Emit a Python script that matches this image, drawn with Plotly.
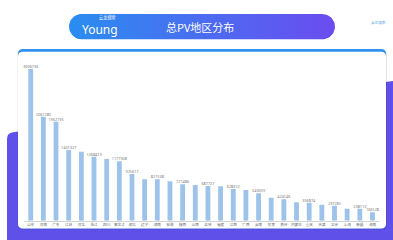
import numpy as np
import plotly.graph_objects as go

# ---- data ----
regions = ["山东", "河南", "广东", "江苏", "河北", "浙江", "四川", "黑龙江", "湖北", "辽宁",
           "湖南", "安徽", "陕西", "山西", "吉林", "福建", "江西", "广西", "云南", "甘肃",
           "贵州", "内蒙古", "重庆", "天津", "北京", "上海", "新疆", "海南"]
pv_values = [3006736, 2061280, 1962195, 1401327, 1367604, 1268413, 1222915, 1177308, 925617, 820546,
             821538, 780925, 721486, 707614, 687727, 681810, 628312, 608503, 543059, 455912,
             424146, 364718, 356874, 317105, 297265, 237840, 238113, 166528]
label_shown = [1, 1, 1, 1, 0, 1, 0, 1, 1, 0, 1, 0, 1, 0, 1, 0, 1, 0, 1, 0, 1, 0, 1, 0, 1, 0, 1, 1]
title_text = "总PV地区分布"
logo_text = "Young"
logo_sub = "云龙搜索"
corner_text = "云龙搜索"

W, H = 393, 240


def px(x):
    return x / W


def py(y):
    return 1 - y / H


def rrect(x0, y0, x1, y1, r):
    return (f"M {px(x0 + r)},{py(y0)} L {px(x1 - r)},{py(y0)} "
            f"Q {px(x1)},{py(y0)} {px(x1)},{py(y0 + r)} L {px(x1)},{py(y1 - r)} "
            f"Q {px(x1)},{py(y1)} {px(x1 - r)},{py(y1)} L {px(x0 + r)},{py(y1)} "
            f"Q {px(x0)},{py(y1)} {px(x0)},{py(y1 - r)} L {px(x0)},{py(y0 + r)} "
            f"Q {px(x0)},{py(y0)} {px(x0 + r)},{py(y0)} Z")


shapes = []
# purple slanted background
shapes.append(dict(type="path", xref="paper", yref="paper", layer="below",
                   path=(f"M {px(7)},{py(139)} Q {px(7)},{py(133)} {px(13)},{py(132.2)} "
                         f"L {px(393)},{py(81)} L {px(393)},{py(240)} L {px(7)},{py(240)} Z"),
                   fillcolor="#5e50e8", line=dict(width=0)))
# card shadow
shapes.append(dict(type="path", xref="paper", yref="paper", layer="below",
                   path=rrect(17.5, 49.5, 387, 229.5, 5), fillcolor="rgba(0,0,0,0.10)",
                   line=dict(width=0)))
# card blue top border
shapes.append(dict(type="path", xref="paper", yref="paper", layer="below",
                   path=rrect(18, 49, 386, 228.5, 5), fillcolor="#2f92ee", line=dict(width=0)))
# card white body
shapes.append(dict(type="path", xref="paper", yref="paper", layer="below",
                   path=rrect(18, 51.8, 386, 228.5, 5), fillcolor="#ffffff", line=dict(width=0)))

texts = [str(v) if s else "" for v, s in zip(pv_values, label_shown)]

fig = go.Figure()
fig.add_trace(go.Bar(
    x=regions, y=pv_values, width=0.38,
    marker=dict(color="#9dc3ea", line=dict(width=0)),
    text=texts, textposition="outside", constraintext="none", cliponaxis=False,
    textfont=dict(size=3.8, color="#777777", family="Noto Sans"),
    hoverinfo="x+y", xaxis="x", yaxis="y",
))

# header pill with gradient (decoration)
x0, x1, y0, y1 = 69, 335, 14, 39.3
r = (y1 - y0) / 2
cy = (y0 + y1) / 2
t1 = np.linspace(-np.pi / 2, np.pi / 2, 30)
t2 = np.linspace(np.pi / 2, 3 * np.pi / 2, 30)
pill_x = list(x1 - r + r * np.cos(t1)) + list(x0 + r + r * np.cos(t2))
pill_y = list(cy + r * np.sin(t1)) + list(cy + r * np.sin(t2))
fig.add_trace(go.Scatter(
    x=pill_x + [pill_x[0]], y=pill_y + [pill_y[0]], mode="lines", fill="toself",
    line=dict(width=0, color="rgba(0,0,0,0)"),
    fillgradient=dict(type="horizontal", colorscale=[[0, "#2a8df0"], [1, "#6b4cf0"]]),
    hoverinfo="skip", xaxis="x2", yaxis="y2",
))

annotations = [
    dict(x=100, y=29.5, xref="x2", yref="y2", text=logo_text, showarrow=False, borderpad=0,
         font=dict(size=12, color="white", family="Noto Sans")),
    dict(x=107, y=17.5, xref="x2", yref="y2", text=logo_sub, showarrow=False, borderpad=0,
         font=dict(size=4.2, color="white", family="Noto Sans CJK SC")),
    dict(x=200, y=27, xref="x2", yref="y2", text=title_text, showarrow=False,
         font=dict(size=11, color="white", family="Noto Sans CJK SC")),
    dict(x=378, y=22, xref="x2", yref="y2", text=corner_text, showarrow=False,
         font=dict(size=3.6, color="#5a9fe6", family="Noto Sans CJK SC")),
]

fig.update_layout(
    width=W, height=H, margin=dict(l=0, r=0, t=0, b=0),
    paper_bgcolor="white", plot_bgcolor="rgba(0,0,0,0)", showlegend=False,
    shapes=shapes, annotations=annotations,
    xaxis=dict(domain=[24.4 / W, 378.8 / W], range=[-0.5, 27.5], anchor="y",
               showline=True, linecolor="#d4d4d4", linewidth=1, ticks="", showgrid=False,
               tickfont=dict(size=3.6, color="#666666", family="Noto Sans CJK SC"),
               fixedrange=True),
    yaxis=dict(domain=[1 - 220.7 / H, 1 - 60 / H], range=[0, 3185000], anchor="x",
               visible=False, fixedrange=True),
    xaxis2=dict(domain=[0, 1], range=[0, W], anchor="y2", visible=False, fixedrange=True),
    yaxis2=dict(domain=[0, 1], range=[H, 0], anchor="x2", visible=False, fixedrange=True),
)

fig.write_html("out.html", config={"displayModeBar": False},
               post_script="document.body.style.margin='0';document.body.style.overflow='hidden';")
